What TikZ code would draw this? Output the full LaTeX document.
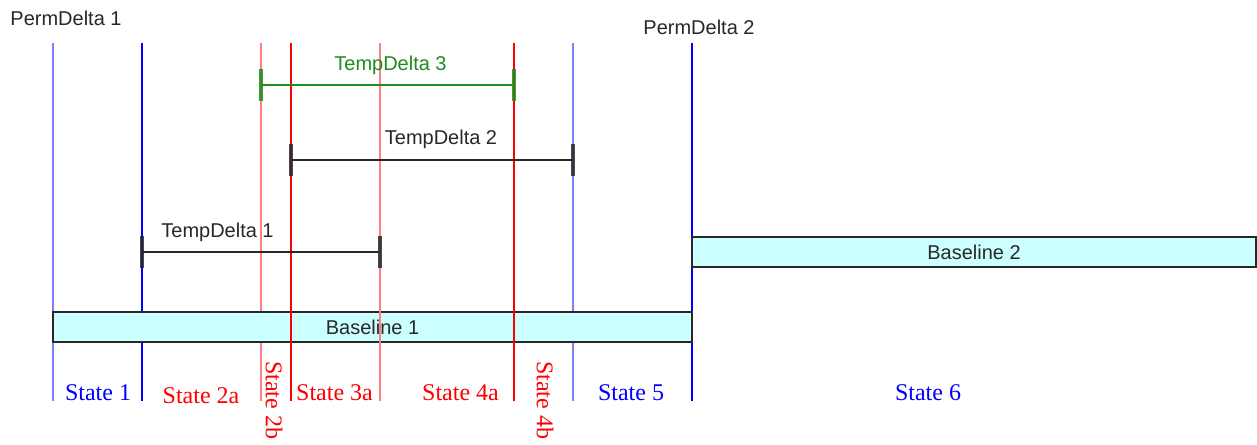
\documentclass[tikz,border=0pt]{standalone}
\usepackage{fontspec}
\setmainfont{Liberation Serif}
\setsansfont{Liberation Sans}

\definecolor{tdgreen}{RGB}{30,140,30}
\definecolor{boxfill}{RGB}{204,255,255}
\definecolor{lblue}{RGB}{128,128,255}
\definecolor{lred}{RGB}{255,128,128}
\definecolor{ink}{RGB}{40,40,40}

\begin{document}
\begin{tikzpicture}[x=1pt,y=-1pt,
  divider/.style={line width=1.6pt},
  span/.style={line width=2pt},
  spantick/.style={line width=3.2pt, opacity=0.85},
  sanslabel/.style={inner sep=0pt, anchor=base, text=ink,
    font=\fontsize{20pt}{24pt}\selectfont\sffamily},
  statelabel/.style={inner sep=0pt, anchor=base,
    font=\fontsize{24pt}{28pt}\selectfont\rmfamily},
  baselinebox/.style={draw=ink, line width=1.6pt, fill=boxfill,
    inner sep=0pt, minimum height=30pt, text=ink,
    font=\fontsize{20pt}{24pt}\selectfont\sffamily}]
\useasboundingbox[fill=white] (0,0) rectangle (1257,444);

% tops and bottoms of the state dividers
\foreach \n/\x in {a/53,b/142,c/261,d/291,e/380,f/514,g/573,h/692}{
  \coordinate (top\n) at (\x,43);
  \coordinate (bot\n) at (\x,401);
}

% dividers that sit behind the baselines
\draw[divider, lblue] (topa) -- (bota);
\draw[divider, blue]  (topb) -- (botb);
\draw[divider, lred]  (topc) -- (botc);
\draw[divider, lblue] (topg) -- (botg);
\draw[divider, blue]  (toph) -- (both);

% baselines
\node[baselinebox, minimum width=639pt] (base1) at (372.5,327) {Baseline 1};
\node[baselinebox, minimum width=564pt] (base2) at (974,252) {Baseline 2};

% dividers drawn across the baselines
\draw[divider, red]  (topd) -- (botd);
\draw[divider, lred] (tope) -- (bote);
\draw[divider, red]  (topf) -- (botf);

% temporary deltas: a bar with an end tick at each side
\coordinate (t3l) at (261,85);  \coordinate (t3r) at (514,85);
\coordinate (t2l) at (291,160); \coordinate (t2r) at (573,160);
\coordinate (t1l) at (142,252); \coordinate (t1r) at (380,252);
\foreach \l/\r/\c in {t3l/t3r/tdgreen, t2l/t2r/ink, t1l/t1r/ink}{
  \draw[span, \c] (\l) -- (\r);
  \draw[spantick, \c] (\l) ++(0,-16) -- ++(0,32);
  \draw[spantick, \c] (\r) ++(0,-16) -- ++(0,32);
}

% delta labels
\node[sanslabel] (pd1) at (66,26)    {PermDelta 1};
\node[sanslabel] (pd2) at (699,35)   {PermDelta 2};
\node[sanslabel, text=tdgreen] (td3) at (390.5,70.5) {TempDelta 3};
\node[sanslabel] (td2) at (441,144)  {TempDelta 2};
\node[sanslabel] (td1) at (217.5,237) {TempDelta 1};

% state labels
\node[statelabel, text=blue] (s1)  at (98,400)    {State 1};
\node[statelabel, text=red]  (s2a) at (201,403)   {State 2a};
\node[statelabel, text=red, anchor=center, rotate=-90] (s2b) at (274,400) {State 2b};
\node[statelabel, text=red]  (s3a) at (334.5,400) {State 3a};
\node[statelabel, text=red]  (s4a) at (460.5,400) {State 4a};
\node[statelabel, text=red, anchor=center, rotate=-90] (s4b) at (545,400) {State 4b};
\node[statelabel, text=blue] (s5)  at (631,400)   {State 5};
\node[statelabel, text=blue] (s6)  at (928,400)   {State 6};
\end{tikzpicture}
\end{document}
